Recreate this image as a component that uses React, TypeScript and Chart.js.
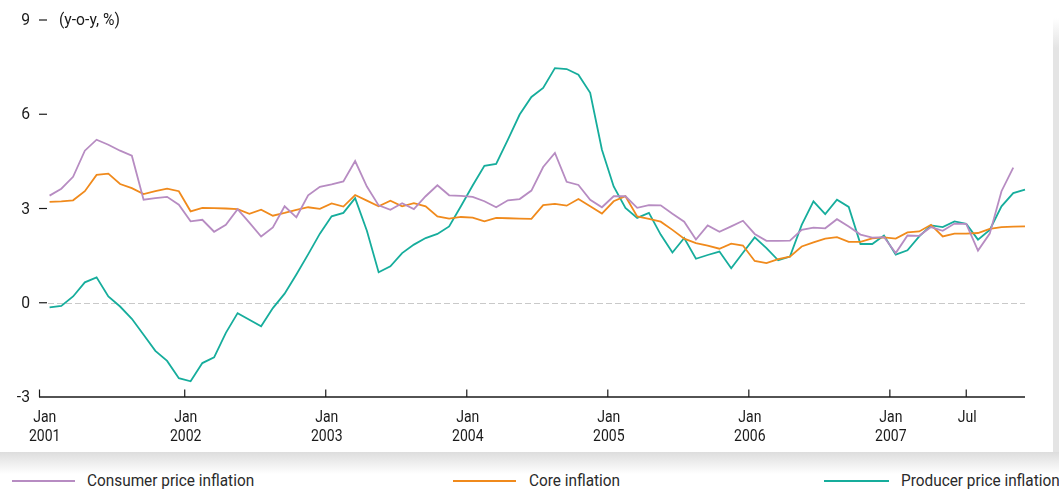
import React, { useEffect, useRef } from "react";
import { Chart, registerables } from "chart.js";

Chart.register(...registerables);

// Monthly values, Jan 2001 onwards (y-o-y, %)
const cpiValues = [
  3.41, 3.63, 4.01, 4.84, 5.19, 5.03, 4.84, 4.68, 3.28, 3.33, 3.37, 3.12,
  2.59, 2.64, 2.26, 2.48, 2.98, 2.55, 2.11, 2.40, 3.07, 2.72, 3.42, 3.69,
  3.77, 3.86, 4.51, 3.70, 3.10, 2.96, 3.17, 2.98, 3.39, 3.74, 3.42, 3.40,
  3.37, 3.23, 3.04, 3.26, 3.30, 3.57, 4.32, 4.77, 3.85, 3.75, 3.28, 3.04,
  3.39, 3.39, 3.02, 3.11, 3.10, 2.83, 2.58, 2.01, 2.46, 2.26, 2.43, 2.61,
  2.19, 1.97, 1.97, 1.98, 2.32, 2.39, 2.37, 2.66, 2.43, 2.17, 2.07, 2.09,
  1.58, 2.14, 2.13, 2.41, 2.29, 2.52, 2.51, 1.66, 2.20, 3.55, 4.30,
];
const coreValues = [
  3.21, 3.23, 3.26, 3.55, 4.07, 4.11, 3.78, 3.65, 3.46, 3.55, 3.63, 3.55,
  2.91, 3.02, 3.01, 3.00, 2.98, 2.83, 2.96, 2.77, 2.86, 2.96, 3.04, 2.99,
  3.16, 3.06, 3.43, 3.25, 3.07, 3.25, 3.07, 3.17, 3.07, 2.75, 2.68, 2.73,
  2.71, 2.59, 2.70, 2.69, 2.68, 2.67, 3.11, 3.15, 3.09, 3.30, 3.07, 2.84,
  3.23, 3.39, 2.75, 2.67, 2.58, 2.32, 2.04, 1.90, 1.82, 1.72, 1.88, 1.82,
  1.33, 1.26, 1.39, 1.47, 1.79, 1.92, 2.04, 2.09, 1.94, 1.94, 2.05, 2.08,
  2.04, 2.24, 2.27, 2.48, 2.11, 2.20, 2.20, 2.22, 2.35, 2.41, 2.42, 2.43,
];
const ppiValues = [
  -0.15, -0.10, 0.20, 0.65, 0.81, 0.20, -0.12, -0.51, -1.02, -1.53, -1.85, -2.40,
  -2.50, -1.92, -1.74, -0.96, -0.33, -0.54, -0.75, -0.17, 0.29, 0.90, 1.54, 2.20,
  2.75, 2.86, 3.33, 2.29, 0.97, 1.16, 1.58, 1.85, 2.06, 2.19, 2.43, 3.07,
  3.73, 4.36, 4.42, 5.19, 5.99, 6.55, 6.84, 7.47, 7.44, 7.26, 6.68, 4.87,
  3.70, 3.02, 2.70, 2.86, 2.17, 1.60, 2.06, 1.40, 1.52, 1.63, 1.10, 1.59,
  2.08, 1.74, 1.35, 1.47, 2.48, 3.23, 2.82, 3.28, 3.05, 1.87, 1.87, 2.14,
  1.53, 1.67, 2.11, 2.46, 2.41, 2.59, 2.51, 2.01, 2.32, 3.07, 3.49, 3.60,
];

const seriesNames = ["Consumer price inflation", "Core inflation", "Producer price inflation"];
const seriesColors = ["#b78cc2", "#f08a1c", "#16ad9c"];

// x axis: month index from Jan 2001
const xTickValues = [0, 12, 24, 36, 48, 60, 72, 78.5];
const xTickLabels = [
  ["Jan", "2001"], ["Jan", "2002"], ["Jan", "2003"], ["Jan", "2004"],
  ["Jan", "2005"], ["Jan", "2006"], ["Jan", "2007"], ["Jul"],
];
const yTickValues = [9, 6, 3, 0, -3];
const yUnitLabel = "(y-o-y, %)";

const FONT = '16.5px Roboto, "Liberation Sans", sans-serif';
const SQUEEZE = 0.85;

const toPoints = (vals: number[]) => vals.map((v, i) => ({ x: i + 0.5, y: v }));

function squeezedText(ctx: CanvasRenderingContext2D, text: string, x: number, y: number, align: CanvasTextAlign, sx: number) {
  ctx.save();
  ctx.translate(x, y);
  ctx.scale(sx, 1);
  ctx.textAlign = align;
  ctx.fillText(text, 0, 0);
  ctx.restore();
}

const axesPlugin = {
  id: "customAxes",
  beforeDatasetsDraw(chart: any) {
    const { ctx, chartArea, scales } = chart;
    const y0 = scales.y.getPixelForValue(0);
    ctx.save();
    ctx.strokeStyle = "#c9c9c9";
    ctx.lineWidth = 1;
    ctx.setLineDash([6, 3]);
    ctx.beginPath();
    ctx.moveTo(chartArea.left + 9, Math.round(y0) + 0.5);
    ctx.lineTo(chartArea.right, Math.round(y0) + 0.5);
    ctx.stroke();
    ctx.restore();
  },
  afterDraw(chart: any) {
    const { ctx, chartArea, scales } = chart;
    const xs = scales.x;
    const ys = scales.y;
    ctx.save();
    ctx.fillStyle = "#1a1a1a";
    ctx.strokeStyle = "#1a1a1a";
    ctx.font = FONT;
    ctx.textBaseline = "middle";
    // y ticks
    yTickValues.forEach((v) => {
      const y = ys.getPixelForValue(v);
      const label = v < 0 ? "-" + Math.abs(v) : String(v);
      squeezedText(ctx, label, chartArea.left - 9, y + 1, "right", 0.95);
      if (v !== ys.min) {
        ctx.lineWidth = 1.2;
        ctx.beginPath();
        ctx.moveTo(chartArea.left, y);
        ctx.lineTo(chartArea.left + 8, y);
        ctx.stroke();
      }
    });
    squeezedText(ctx, yUnitLabel, chartArea.left + 20, ys.getPixelForValue(yTickValues[0]) + 1, "left", 0.95);
    // x axis line
    const base = chartArea.bottom;
    ctx.lineWidth = 1.5;
    ctx.beginPath();
    ctx.moveTo(chartArea.left, base);
    ctx.lineTo(chartArea.right, base);
    ctx.stroke();
    // x ticks
    ctx.lineWidth = 1.2;
    xTickValues.forEach((v, i) => {
      const x = i === 0 ? chartArea.left + 0.5 : xs.getPixelForValue(v);
      ctx.beginPath();
      ctx.moveTo(x, base - 7.5);
      ctx.lineTo(x, base);
      ctx.stroke();
      const lx = xs.getPixelForValue(v) + 1;
      xTickLabels[i].forEach((line, j) => {
        squeezedText(ctx, line, lx, base + 21 + j * 19, "center", SQUEEZE);
      });
    });
    ctx.restore();
  },
};

export default function App() {
  const ref = useRef<HTMLCanvasElement | null>(null);

  useEffect(() => {
    if (!ref.current) return;
    const chart = new Chart(ref.current, {
      type: "line",
      data: {
        datasets: [
          { label: seriesNames[0], data: toPoints(cpiValues), borderColor: seriesColors[0] },
          { label: seriesNames[1], data: toPoints(coreValues), borderColor: seriesColors[1] },
          { label: seriesNames[2], data: toPoints(ppiValues), borderColor: seriesColors[2] },
        ].map((d) => ({
          ...d,
          borderWidth: 1.8,
          pointRadius: 0,
          tension: 0,
          fill: false,
          clip: false as any,
        })),
      },
      options: {
        animation: false,
        responsive: false,
        devicePixelRatio: 1,
        layout: { padding: { left: 39, right: 28, top: 20, bottom: 55 } },
        plugins: { legend: { display: false }, tooltip: { enabled: false } },
        scales: {
          x: { type: "linear", min: -0.4, max: 83.5, display: false },
          y: { type: "linear", min: -3, max: 9, display: false },
        },
      },
      plugins: [axesPlugin],
    });
    return () => chart.destroy();
  }, []);

  const legendPos = [
    { line: 12, w: 63, text: 87 },
    { line: 453, w: 63, text: 529 },
    { line: 824, w: 65, text: 901 },
  ];

  return (
    <div
      style={{
        position: "fixed",
        left: 0,
        top: 0,
        width: 1059,
        height: 491,
        overflow: "hidden",
        background: "#fff",
      }}
    >
      <div style={{ position: "absolute", left: 1053, top: 0, width: 6, height: 452, background: "linear-gradient(to bottom, #ffffff 18px, #e4e4e4 48px)" }} />
      <div style={{ position: "absolute", left: 0, top: 452, width: 1059, height: 22, background: "linear-gradient(to bottom, #dddddd, #ffffff)" }} />
      <div style={{ position: "absolute", left: 0, top: 0, width: 1053, height: 452, background: "#fff" }}>
        <canvas ref={ref} width={1053} height={452} style={{ display: "block", width: 1053, height: 452 }} />
      </div>
      {seriesNames.map((name, i) => (
        <React.Fragment key={name}>
          <div
            style={{
              position: "absolute",
              left: legendPos[i].line,
              top: 480,
              width: legendPos[i].w,
              height: 2,
              background: seriesColors[i],
            }}
          />
          <div
            style={{
              position: "absolute",
              left: legendPos[i].text,
              top: 471,
              height: 20,
              lineHeight: "20px",
              whiteSpace: "nowrap",
              fontFamily: 'Roboto, "Liberation Sans", sans-serif',
              fontSize: 16,
              transform: "scaleX(0.96)",
              transformOrigin: "left center",
              color: "#2a2a2a",
            }}
          >
            {name}
          </div>
        </React.Fragment>
      ))}
    </div>
  );
}
